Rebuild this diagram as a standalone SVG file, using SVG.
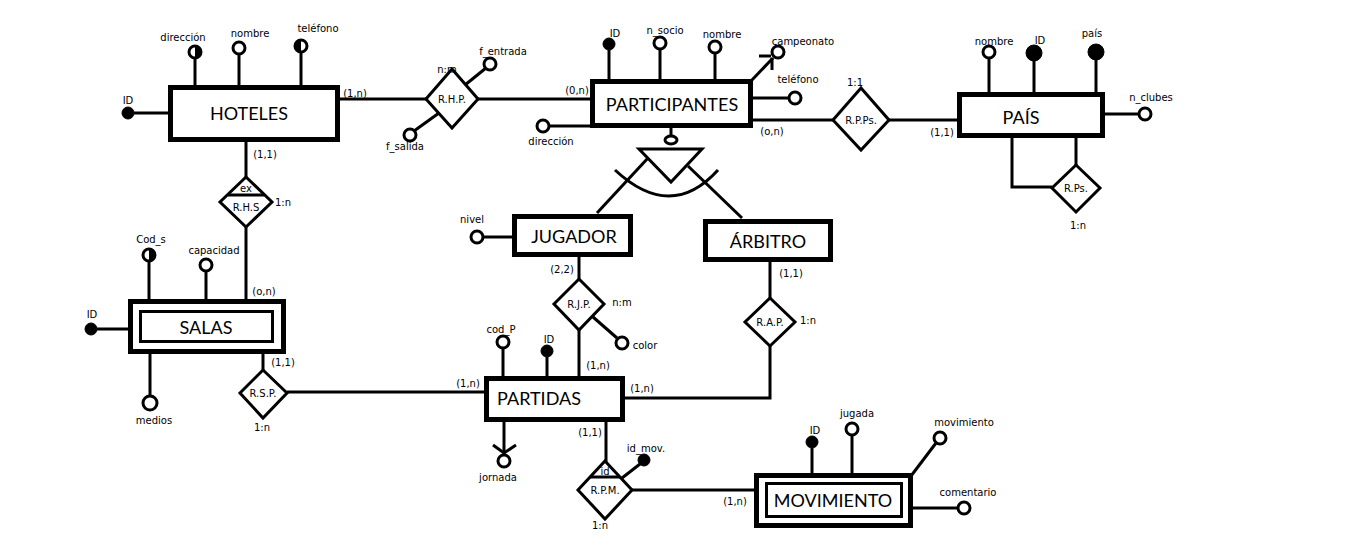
<svg xmlns="http://www.w3.org/2000/svg" width="1346" height="553" viewBox="0 0 1346 553">
<style>
.ent{fill:#fff;stroke:#000;stroke-width:5}
.inner{fill:none;stroke:#000;stroke-width:3}
.rel{fill:#fff;stroke:#000;stroke-width:3}
.ln{stroke:#000;stroke-width:3;fill:none}
.ao{fill:#fff;stroke:#000;stroke-width:3}
.af{fill:#000;stroke:#000;stroke-width:1}
.hf{fill:#000}
.t{font-family:"DejaVu Sans",sans-serif;font-size:10px;text-anchor:middle;fill:#000}
.rt{font-family:"DejaVu Sans",sans-serif;font-size:10px;text-anchor:middle;fill:#000}
.et{font-family:Lato,"Liberation Sans",sans-serif;font-size:18px;text-anchor:middle;fill:#000}
</style>
<rect width="1346" height="553" fill="#fff"/>

<g id="connectors">
<line class="ln" x1="338" y1="99" x2="427" y2="99"/>
<line class="ln" x1="478" y1="99" x2="592" y2="99"/>
<line class="ln" x1="753" y1="120" x2="833" y2="120"/>
<line class="ln" x1="889" y1="120" x2="957" y2="120"/>
<path class="ln" d="M1012,138 L1012,187 L1052,187"/>
<line class="ln" x1="1076" y1="138" x2="1076" y2="165"/>
<line class="ln" x1="246" y1="140" x2="246" y2="177"/>
<line class="ln" x1="246" y1="227" x2="246" y2="301"/>
<line class="ln" x1="263" y1="354" x2="263" y2="370"/>
<line class="ln" x1="287" y1="392" x2="484" y2="392"/>
<line class="ln" x1="579" y1="257" x2="579" y2="279"/>
<line class="ln" x1="579" y1="330" x2="579" y2="376"/>
<line class="ln" x1="770" y1="262" x2="770" y2="298"/>
<path class="ln" d="M770,346 L770,398 L625,398"/>
<line class="ln" x1="606" y1="420" x2="606" y2="462"/>
<line class="ln" x1="632" y1="490" x2="754" y2="490"/>
<!-- ISA -->
<line class="ln" x1="671" y1="128" x2="671" y2="136"/>
<ellipse class="ln" cx="671" cy="140" rx="6" ry="4"/>
<polygon class="rel" points="639,149 702,149 671,182"/>
<line class="ln" x1="648" y1="158" x2="597" y2="213"/>
<line class="ln" x1="688" y1="166" x2="742" y2="218"/>
<path class="ln" d="M615,170 Q671,222 718,170"/>
<!-- cardinalities -->
<text class="t" x="355" y="97">(1,n)</text>
<text class="t" x="577" y="94">(0,n)</text>
<text class="t" x="772" y="135">(o,n)</text>
<text class="t" x="942" y="136">(1,1)</text>
<text class="t" x="265" y="158">(1,1)</text>
<text class="t" x="264" y="295">(o,n)</text>
<text class="t" x="283" y="366">(1,1)</text>
<text class="t" x="468" y="387">(1,n)</text>
<text class="t" x="562" y="273">(2,2)</text>
<text class="t" x="598" y="369">(1,n)</text>
<text class="t" x="791" y="277">(1,1)</text>
<text class="t" x="642" y="392">(1,n)</text>
<text class="t" x="590" y="436">(1,1)</text>
<text class="t" x="735" y="505">(1,n)</text>
</g>

<g id="hoteles">
<line class="ln" x1="195" y1="87" x2="195" y2="58"/>
<circle class="ao" cx="195" cy="52" r="6"/><path class="hf" d="M195,46 A6,6 0 0 1 195,58 Z"/>
<text class="t" x="183" y="41">dirección</text>
<line class="ln" x1="239" y1="87" x2="239" y2="54"/>
<circle class="ao" cx="239" cy="48" r="6"/>
<text class="t" x="250" y="37">nombre</text>
<line class="ln" x1="301" y1="87" x2="301" y2="52"/>
<circle class="ao" cx="301" cy="46" r="6"/><path class="hf" d="M301,40 A6,6 0 0 0 301,52 Z"/>
<text class="t" x="318" y="32">teléfono</text>
<line class="ln" x1="170" y1="113" x2="134" y2="113"/>
<circle class="af" cx="128" cy="113" r="6"/>
<text class="t" x="128" y="104">ID</text>
<rect class="ent" x="170.5" y="87.5" width="167" height="52"/>
<text class="et" x="249" y="120">HOTELES</text>
</g>

<g id="rhp">
<line class="ln" x1="465" y1="85" x2="486" y2="68"/>
<circle class="ao" cx="490" cy="64" r="6"/>
<text class="t" x="503" y="55">f_entrada</text>
<line class="ln" x1="439" y1="113" x2="414" y2="131"/>
<circle class="ao" cx="410" cy="135" r="6"/>
<text class="t" x="405" y="150">f_salida</text>
<polygon class="rel" points="452,69 478,99 452,128 426,99"/>
<text class="rt" x="452" y="103">R.H.P.</text>
<text class="t" x="447" y="73">n:m</text>
</g>

<g id="participantes">
<line class="ln" x1="609" y1="81" x2="609" y2="50"/>
<circle class="af" cx="609" cy="44" r="6"/>
<text class="t" x="615" y="37">ID</text>
<line class="ln" x1="660" y1="81" x2="660" y2="49"/>
<circle class="ao" cx="660" cy="43" r="6"/>
<text class="t" x="665" y="34">n_socio</text>
<line class="ln" x1="715" y1="81" x2="715" y2="53"/>
<circle class="ao" cx="715" cy="47" r="6"/>
<text class="t" x="722" y="38">nombre</text>
<line class="ln" x1="751" y1="81" x2="773" y2="58"/>
<path class="ln" d="M759,56 L771,56 M772,58 L772,70"/>
<circle class="ao" cx="778" cy="52" r="6"/>
<text class="t" x="803" y="45">campeonato</text>
<line class="ln" x1="753" y1="98" x2="789" y2="98"/>
<circle class="ao" cx="795" cy="98" r="6"/>
<text class="t" x="798" y="83">teléfono</text>
<line class="ln" x1="592" y1="126" x2="549" y2="126"/>
<circle class="ao" cx="543" cy="126" r="6"/>
<text class="t" x="551" y="145">dirección</text>
<rect class="ent" x="592.5" y="81.5" width="158" height="44"/>
<text class="et" x="672" y="111">PARTICIPANTES</text>
</g>

<g id="rpps">
<polygon class="rel" points="861,88 889,120 861,150 833,120"/>
<text class="rt" x="861" y="124">R.P.Ps.</text>
<text class="t" x="855" y="86">1:1</text>
</g>

<g id="pais">
<line class="ln" x1="989" y1="94" x2="989" y2="58"/>
<circle class="ao" cx="989" cy="52" r="6"/>
<text class="t" x="994" y="45">nombre</text>
<line class="ln" x1="1034" y1="94" x2="1034" y2="60"/>
<circle class="af" cx="1034" cy="53" r="8"/>
<text class="t" x="1040" y="44">ID</text>
<line class="ln" x1="1096" y1="94" x2="1096" y2="59"/>
<circle class="af" cx="1096" cy="52" r="8"/>
<text class="t" x="1092" y="37">país</text>
<line class="ln" x1="1105" y1="114" x2="1138" y2="114"/>
<circle class="ao" cx="1145" cy="114" r="6"/>
<text class="t" x="1151" y="101">n_clubes</text>
<rect class="ent" x="959.5" y="94.5" width="143" height="41"/>
<text class="et" x="1021" y="124">PAÍS</text>
</g>

<g id="rps">
<polygon class="rel" points="1076,165 1100,188 1076,212 1052,188"/>
<text class="rt" x="1076" y="192">R.Ps.</text>
<text class="t" x="1078" y="229">1:n</text>
</g>

<g id="jugador">
<line class="ln" x1="514" y1="237" x2="483" y2="237"/>
<circle class="ao" cx="477" cy="237" r="6"/>
<text class="t" x="472" y="223">nivel</text>
<rect class="ent" x="514.5" y="216.5" width="116" height="38"/>
<text class="et" x="574" y="243">JUGADOR</text>
</g>

<g id="arbitro">
<rect class="ent" x="705.5" y="221.5" width="125" height="38"/>
<text class="et" x="768" y="248">ÁRBITRO</text>
</g>

<g id="rjp">
<line class="ln" x1="593" y1="317" x2="617" y2="338"/>
<circle class="ao" cx="622" cy="343" r="6"/>
<text class="t" x="645" y="349">color</text>
<polygon class="rel" points="579,279 604,304 579,330 554,304"/>
<text class="rt" x="579" y="308">R.J.P.</text>
<text class="t" x="622" y="306">n:m</text>
</g>

<g id="rap">
<polygon class="rel" points="770,298 795,322 770,346 745,322"/>
<text class="rt" x="770" y="326">R.A.P.</text>
<text class="t" x="808" y="324">1:n</text>
</g>

<g id="partidas">
<line class="ln" x1="503" y1="378" x2="503" y2="348"/>
<circle class="ao" cx="503" cy="342" r="6"/>
<text class="t" x="501" y="333">cod_P</text>
<line class="ln" x1="547" y1="378" x2="547" y2="357"/>
<circle class="af" cx="547" cy="351" r="6"/>
<text class="t" x="549" y="343">ID</text>
<line class="ln" x1="504" y1="420" x2="504" y2="454"/>
<path class="ln" d="M493,445 L504,453 L516,445"/>
<circle class="ao" cx="504" cy="461" r="6"/>
<text class="t" x="498" y="481">jornada</text>
<rect class="ent" x="486.5" y="378.5" width="136" height="41"/>
<text class="et" x="539" y="405">PARTIDAS</text>
</g>

<g id="rpm">
<line class="ln" x1="622" y1="478" x2="640" y2="464"/>
<circle class="af" cx="644" cy="460" r="6"/>
<text class="t" x="646" y="452">id_mov.</text>
<polygon class="rel" points="605,461 632,490 605,519 578,490"/>
<line class="ln" x1="590" y1="477" x2="620" y2="477"/>
<text class="t" x="605" y="475">id</text>
<text class="rt" x="605" y="494">R.P.M.</text>
<text class="t" x="600" y="529">1:n</text>
</g>

<g id="movimiento">
<line class="ln" x1="812" y1="475" x2="812" y2="448"/>
<circle class="af" cx="812" cy="442" r="6"/>
<text class="t" x="815" y="434">ID</text>
<line class="ln" x1="852" y1="475" x2="852" y2="435"/>
<circle class="ao" cx="852" cy="429" r="6"/>
<text class="t" x="857" y="417">jugada</text>
<line class="ln" x1="911" y1="476" x2="936" y2="443"/>
<circle class="ao" cx="940" cy="438" r="6"/>
<text class="t" x="964" y="426">movimiento</text>
<line class="ln" x1="913" y1="508" x2="958" y2="508"/>
<circle class="ao" cx="964" cy="508" r="6"/>
<text class="t" x="968" y="496">comentario</text>
<rect class="ent" x="756.5" y="475.5" width="154" height="50"/>
<rect class="inner" x="766.5" y="483.5" width="135" height="33"/>
<text class="et" x="833" y="507">MOVIMIENTO</text>
</g>

<g id="rhs">
<polygon class="rel" points="246,177 272,202 246,227 220,202"/>
<line class="ln" x1="228" y1="195" x2="264" y2="195"/>
<text class="t" x="246" y="192">ex</text>
<text class="rt" x="246" y="211">R.H.S</text>
<text class="t" x="283" y="206">1:n</text>
</g>

<g id="salas">
<line class="ln" x1="130" y1="329" x2="97" y2="329"/>
<circle class="af" cx="91" cy="329" r="6"/>
<text class="t" x="92" y="318">ID</text>
<line class="ln" x1="149" y1="301" x2="149" y2="261"/>
<circle class="ao" cx="149" cy="255" r="6"/><path class="hf" d="M149,249 A6,6 0 0 1 149,261 Z"/>
<text class="t" x="151" y="243">Cod_s</text>
<line class="ln" x1="206" y1="301" x2="206" y2="271"/>
<circle class="ao" cx="206" cy="265" r="6"/>
<text class="t" x="214" y="254">capacidad</text>
<line class="ln" x1="150" y1="354" x2="150" y2="396"/>
<circle class="ao" cx="150" cy="403" r="7"/>
<text class="t" x="154" y="424">medios</text>
<rect class="ent" x="130.5" y="301.5" width="153" height="50"/>
<rect class="inner" x="140.5" y="311.5" width="132" height="30"/>
<text class="et" x="206" y="334">SALAS</text>
</g>

<g id="rsp">
<polygon class="rel" points="263,370 287,393 263,418 240,393"/>
<text class="rt" x="263" y="397">R.S.P.</text>
<text class="t" x="262" y="431">1:n</text>
</g>
</svg>
